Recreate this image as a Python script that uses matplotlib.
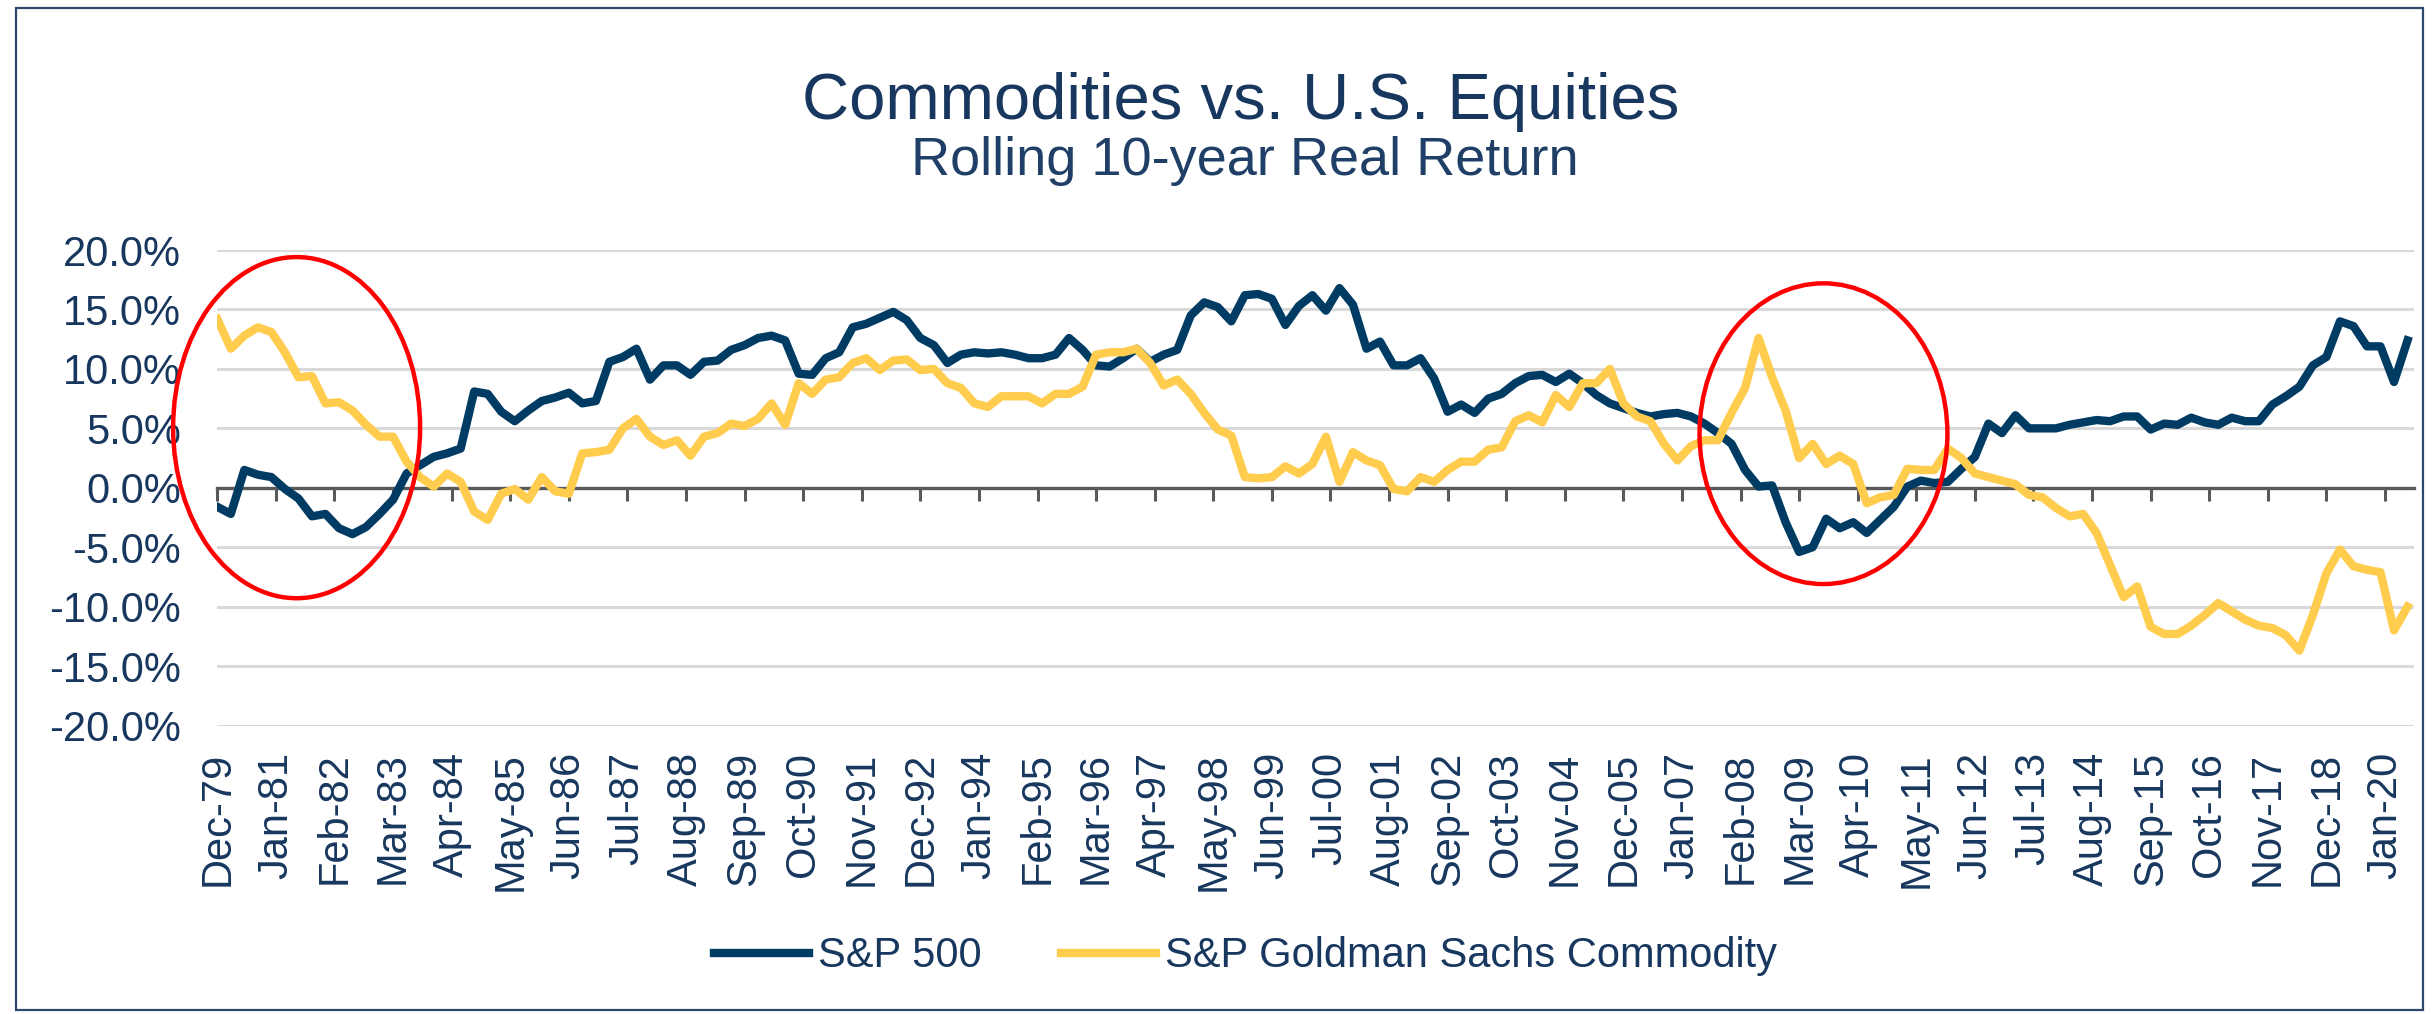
import numpy as np
import matplotlib
matplotlib.use('Agg')
import matplotlib.pyplot as plt
from matplotlib.patches import Ellipse, Rectangle

# quarterly rolling 10-year real return (%), Dec-79 .. Jun-20
sp500 = [-1.6, -2.2, 1.5, 1.1, 0.9, -0.1, -0.9, -2.4, -2.2, -3.4,
         -3.9, -3.3, -2.2, -1.0, 1.2, 1.9, 2.6, 2.9, 3.3, 8.1,
         7.9, 6.4, 5.6, 6.5, 7.3, 7.6, 8.0, 7.1, 7.3, 10.6,
         11.0, 11.7, 9.1, 10.3, 10.3, 9.5, 10.6, 10.7, 11.6, 12.0,
         12.6, 12.8, 12.4, 9.6, 9.5, 10.9, 11.4, 13.5, 13.8, 14.3,
         14.8, 14.1, 12.6, 12.0, 10.5, 11.2, 11.4, 11.3, 11.4, 11.2,
         10.9, 10.9, 11.2, 12.6, 11.6, 10.3, 10.2, 10.9, 11.7, 10.6,
         11.2, 11.6, 14.5, 15.6, 15.2, 14.0, 16.2, 16.3, 15.9, 13.7,
         15.3, 16.2, 14.9, 16.8, 15.4, 11.7, 12.3, 10.3, 10.3, 10.9,
         9.2, 6.4, 7.0, 6.3, 7.5, 7.9, 8.8, 9.4, 9.5, 8.9,
         9.6, 8.8, 7.8, 7.1, 6.7, 6.3, 6.0, 6.2, 6.3, 6.0,
         5.4, 4.6, 3.7, 1.5, 0.1, 0.2, -2.9, -5.4, -5.0, -2.6,
         -3.4, -2.9, -3.8, -2.7, -1.6, 0.1, 0.6, 0.4, 0.5, 1.6,
         2.6, 5.4, 4.6, 6.1, 5.0, 5.0, 5.0, 5.3, 5.5, 5.7,
         5.6, 6.0, 6.0, 4.9, 5.4, 5.3, 5.9, 5.5, 5.3, 5.9,
         5.6, 5.6, 7.0, 7.7, 8.5, 10.3, 11.0, 14.0, 13.6, 11.9,
         11.9, 8.9, 12.4]

gsci = [14.2, 11.7, 12.8, 13.5, 13.1, 11.4, 9.3, 9.4, 7.1, 7.2,
        6.5, 5.3, 4.3, 4.3, 2.2, 0.9, 0.1, 1.2, 0.5, -2.0,
        -2.7, -0.5, -0.1, -1.0, 0.9, -0.3, -0.5, 2.9, 3.0, 3.2,
        5.0, 5.8, 4.3, 3.6, 4.0, 2.7, 4.3, 4.6, 5.4, 5.2,
        5.8, 7.1, 5.3, 8.8, 7.9, 9.1, 9.3, 10.5, 10.9, 9.9,
        10.7, 10.8, 9.9, 10.0, 8.8, 8.4, 7.1, 6.8, 7.7, 7.7,
        7.7, 7.1, 7.9, 7.9, 8.5, 11.2, 11.4, 11.4, 11.7, 10.5,
        8.6, 9.1, 7.9, 6.3, 4.9, 4.4, 0.9, 0.8, 0.9, 1.8,
        1.2, 2.0, 4.3, 0.5, 3.0, 2.3, 1.9, -0.1, -0.3, 0.9,
        0.5, 1.5, 2.2, 2.2, 3.2, 3.4, 5.6, 6.1, 5.5, 7.8,
        6.8, 8.8, 8.8, 10.0, 7.1, 6.0, 5.6, 3.7, 2.3, 3.5,
        4.0, 4.0, 6.3, 8.4, 12.6, 9.3, 6.5, 2.5, 3.7, 2.0,
        2.7, 2.0, -1.3, -0.8, -0.6, 1.6, 1.5, 1.5, 3.3, 2.5,
        1.2, 0.9, 0.6, 0.3, -0.6, -0.8, -1.7, -2.4, -2.2, -3.8,
        -6.5, -9.2, -8.3, -11.7, -12.3, -12.3, -11.6, -10.7, -9.7, -10.4,
        -11.1, -11.6, -11.8, -12.4, -13.7, -10.7, -7.2, -5.2, -6.6, -6.9,
        -7.1, -12.0, -10.0]

tick_labels = ['Dec-79', 'Jan-81', 'Feb-82', 'Mar-83', 'Apr-84', 'May-85',
               'Jun-86', 'Jul-87', 'Aug-88', 'Sep-89', 'Oct-90', 'Nov-91',
               'Dec-92', 'Jan-94', 'Feb-95', 'Mar-96', 'Apr-97', 'May-98',
               'Jun-99', 'Jul-00', 'Aug-01', 'Sep-02', 'Oct-03', 'Nov-04',
               'Dec-05', 'Jan-07', 'Feb-08', 'Mar-09', 'Apr-10', 'May-11',
               'Jun-12', 'Jul-13', 'Aug-14', 'Sep-15', 'Oct-16', 'Nov-17',
               'Dec-18', 'Jan-20']
y_ticks = [-20, -15, -10, -5, 0, 5, 10, 15, 20]
y_labels = ['-20.0%', '-15.0%', '-10.0%', '-5.0%', '0.0%',
            '5.0%', '10.0%', '15.0%', '20.0%']

# months since Dec-79, one point per quarter
months = np.arange(len(sp500)) * 3
tick_pos = np.arange(len(tick_labels)) * 13

NAVY = '#003B63'
GOLD = '#FFCC4E'
TXT = '#17375E'

plt.rcParams['font.family'] = ['Liberation Sans', 'DejaVu Sans']

fig = plt.figure(figsize=(24.32, 10.14), dpi=100)
ax = fig.add_axes([0.08935, 0.2845, 0.90337, 0.4689])

ax.plot(months, sp500, color=NAVY, lw=6.0, solid_joinstyle='round',
        label='S&P 500')
ax.plot(months, gsci, color=GOLD, lw=6.0, solid_joinstyle='round',
        label='S&P Goldman Sachs Commodity')

ax.set_xlim(0, 487.5)
ax.set_ylim(-20, 20)
ax.set_yticks(y_ticks, y_labels)
ax.tick_params(axis='y', length=0, pad=26, labelsize=30, labelcolor=TXT)
ax.yaxis.grid(True, color='#D9D9D9', lw=2.2)
ax.set_axisbelow(True)

for s in ['left', 'right', 'top']:
    ax.spines[s].set_visible(False)
ax.spines['bottom'].set_position(('data', 0))
ax.spines['bottom'].set_color('#595959')
ax.spines['bottom'].set_linewidth(2.4)
ax.spines['bottom'].set_zorder(1.5)
ax.set_xticks(tick_pos)
ax.tick_params(axis='x', length=9, width=2.2, color='#595959',
               labelbottom=False)

# labels sit below the plot area, not on the zero line
sec = ax.secondary_xaxis('bottom')
sec.set_xticks(tick_pos, tick_labels, rotation=90)
sec.tick_params(length=0, pad=19, labelsize=30, labelcolor=TXT)
sec.spines['bottom'].set_visible(False)

# red circles
for cx, cy, w, h in [(17.6, 5.06, 54.8, 28.7), (356.4, 4.55, 55.0, 25.3)]:
    ax.add_patch(Ellipse((cx, cy), w, h, fill=False, ec='#FF0000', lw=3.2,
                         zorder=5, clip_on=False))

fig.text(0.5103, 0.8826, 'Commodities vs. U.S. Equities', ha='center',
         va='baseline', fontsize=47, color=TXT)
fig.text(0.512, 0.8274, 'Rolling 10-year Real Return', ha='center',
         va='baseline', fontsize=39, color='#1F3F66')

fig.legend(loc='center', bbox_to_anchor=(0.512, 0.057), ncol=2,
           frameon=False, fontsize=30, handlelength=2.3, handletextpad=0.2,
           columnspacing=1.9, labelcolor=TXT)

fig.patches.append(Rectangle((0.0066, 0.004), 0.9897, 0.988,
                             transform=fig.transFigure, fill=False,
                             ec='#2B4A6B', lw=1.6))

fig.savefig('out.png', dpi=100)
